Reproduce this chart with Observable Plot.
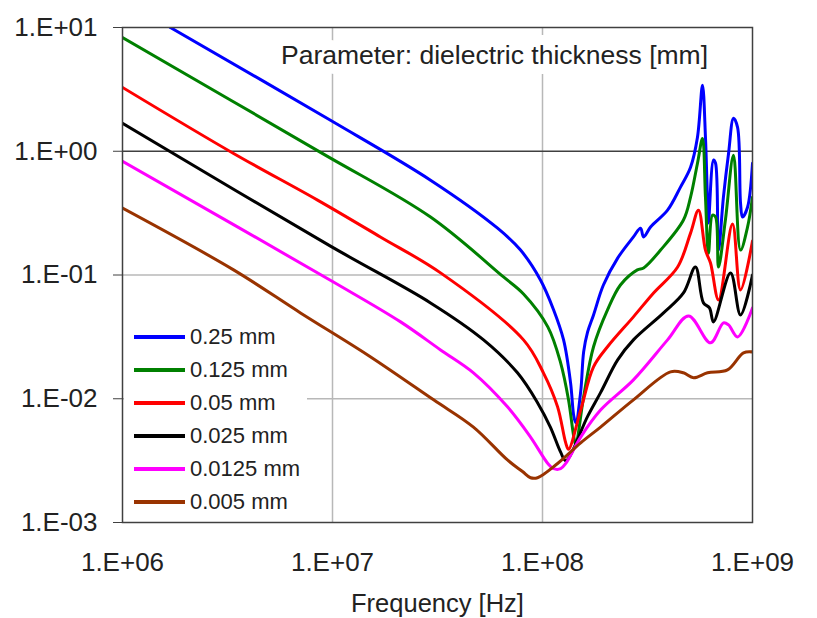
<!DOCTYPE html>
<html><head><meta charset="utf-8">
<script src="https://cdn.jsdelivr.net/npm/d3@7"></script>
<script src="https://cdn.jsdelivr.net/npm/@observablehq/plot@0.6"></script>
<style>
html,body{margin:0;padding:0;background:#fff;}
#wrap{position:relative;width:817px;height:618px;font-family:"Liberation Sans",Arial,sans-serif;}
#legend{position:absolute;left:124px;top:320px;width:183px;height:200px;background:#fff;}
.item{position:absolute;left:0;height:26px;display:flex;align-items:center;font-size:22px;color:#222;white-space:nowrap;}
.sw{width:51px;height:4px;margin-left:10px;margin-right:5px;}
</style></head><body><div id="wrap"></div>
<script>
const seriesNames = ["0.25 mm","0.125 mm","0.05 mm","0.025 mm","0.0125 mm","0.005 mm"];
const seriesColors = ["#0000ff","#008000","#ff0000","#000000","#ff00ff","#993300"];
const xTicks = [1e6,1e7,1e8,1e9];
const yTicks = [1e-3,1e-2,1e-1,1,10];
const annotation = "Parameter: dielectric thickness [mm]";
const xTitle = "Frequency [Hz]";

const freq_0250 = [1.69e6,9.78e6,2.93e7,6.11e7,7.86e7,9.78e7,1.13e8,1.26e8,1.36e8,1.41e8,1.44e8,1.52e8,1.57e8,1.64e8,1.75e8,1.95e8,2.28e8,2.71e8,2.93e8,3.03e8,3.27e8,3.94e8,4.54e8,5.07e8,5.47e8,5.78e8,5.97e8,6.11e8,6.17e8,6.52e8,6.67e8,6.89e8,7.27e8,7.69e8,8.12e8,8.49e8,8.77e8,8.96e8,9.47e8,1.0e9];
const val_0250  = [10,1.78,0.584,0.239,0.159,0.0912,0.0522,0.0299,0.0135,0.0072,0.0064,0.0114,0.0239,0.0347,0.0476,0.083,0.137,0.203,0.239,0.203,0.244,0.334,0.513,0.743,1.30,3.41,1.30,0.381,0.263,0.85,0.80,0.159,0.426,0.96,1.85,1.56,0.381,0.294,0.353,0.80];

const freq_0125 = [1.0e6,8.77e6,2.93e7,6.52e7,8.12e7,1.06e8,1.22e8,1.33e8,1.41e8,1.44e8,1.57e8,1.75e8,2.04e8,2.35e8,2.83e8,3.03e8,3.65e8,4.69e8,5.07e8,5.47e8,5.78e8,5.97e8,6.17e8,6.45e8,6.67e8,6.89e8,7.43e8,8.12e8,8.77e8,9.47e8,1.0e9];
const val_0125  = [8.30,0.98,0.294,0.0964,0.0703,0.0381,0.0195,0.0098,0.0049,0.00426,0.0104,0.0263,0.0522,0.083,0.110,0.114,0.159,0.278,0.426,0.80,1.27,0.426,0.150,0.305,0.294,0.116,0.278,0.93,0.159,0.244,0.426];

const freq_0050 = [1.0e6,3.38e6,8.49e6,1.69e7,3.27e7,8.12e7,1.01e8,1.18e8,1.29e8,1.33e8,1.52e8,1.75e8,2.04e8,2.71e8,3.38e8,4.40e8,5.07e8,5.53e8,5.97e8,6.31e8,6.89e8,8.03e8,8.77e8,1.0e9];
const val_0050  = [3.28,0.96,0.403,0.203,0.104,0.0299,0.0162,0.0086,0.0044,0.0039,0.0081,0.0181,0.0263,0.0459,0.0716,0.116,0.218,0.334,0.159,0.125,0.0629,0.258,0.0757,0.188];

const freq_0025 = [1.0e6,9.78e6,2.93e7,5.24e7,7.60e7,9.47e7,1.09e8,1.22e8,1.29e8,1.64e8,1.89e8,2.28e8,2.71e8,3.77e8,4.69e8,5.35e8,5.84e8,6.24e8,6.52e8,7.86e8,8.77e8,1.0e9];
const val_0025  = [1.68,0.171,0.0595,0.0299,0.0162,0.0093,0.0059,0.0037,0.00316,0.0072,0.0112,0.0206,0.0299,0.0494,0.0716,0.116,0.0595,0.0542,0.0418,0.104,0.0476,0.100];

const freq_00125 = [1.0e6,1.01e7,2.11e7,3.27e7,4.69e7,6.81e7,8.77e7,1.06e8,1.13e8,1.22e8,1.29e8,1.52e8,1.89e8,2.71e8,3.94e8,4.96e8,6.31e8,7.27e8,7.69e8,8.49e8,1.0e9];
const val_00125  = [0.83,0.0878,0.0418,0.0248,0.0162,0.0086,0.0049,0.0030,0.00272,0.00272,0.0030,0.0049,0.0081,0.0142,0.0299,0.0467,0.0283,0.0410,0.0395,0.0316,0.0542];

const freq_0005 = [1.0e6,3.38e6,7.04e6,1.47e7,3.03e7,4.69e7,6.81e7,8.03e7,8.77e7,9.47e7,1.18e8,1.52e8,1.89e8,2.71e8,4.07e8,4.69e8,5.24e8,6.11e8,7.60e8,9.06e8,1.0e9];
const val_0005  = [0.347,0.110,0.0494,0.0226,0.0098,0.0059,0.0032,0.00258,0.0023,0.0023,0.0030,0.0044,0.0059,0.0098,0.0165,0.0162,0.0148,0.0162,0.0171,0.0235,0.0239];

const freqs = [freq_0250,freq_0125,freq_0050,freq_0025,freq_00125,freq_0005];
const vals  = [val_0250,val_0125,val_0050,val_0025,val_00125,val_0005];
const rows = [];
seriesNames.forEach((s,i)=>freqs[i].forEach((f,j)=>rows.push({s, f, v: vals[i][j]})));

const fmt = d => { const e = Math.round(Math.log10(d)); return "1.E" + (e<0?"-":"+") + String(Math.abs(e)).padStart(2,"0"); };
const font = "Liberation Sans, Arial, sans-serif";

const chart = Plot.plot({
  width: 817, height: 618,
  marginLeft: 122, marginRight: 65, marginTop: 27, marginBottom: 96,
  x: {type: "log", domain: [1e6, 1e9]},
  y: {type: "log", domain: [1e-3, 10]},
  color: {domain: seriesNames, range: seriesColors},
  style: {fontFamily: font, background: "white", overflow: "visible"},
  marks: [
    Plot.ruleX([1e7,1e8], {stroke: "#b8b8b8", strokeWidth: 1.5}),
    Plot.ruleY([1e-2,1e-1], {stroke: "#b8b8b8", strokeWidth: 1.5}),
    Plot.ruleY([1], {stroke: "#404040", strokeWidth: 1.5}),
    Plot.text([annotation], {frameAnchor: "top", dx: 57, dy: 18, fontSize: 26.5, fill: "#222", stroke: "white", strokeWidth: 20, strokeLinejoin: "round"}),
    Plot.line(rows, {x: "f", y: "v", z: "s", stroke: "s", strokeWidth: 3, strokeLinejoin: "round", curve: "catmull-rom", clip: true}),
    Plot.frame({stroke: "#404040", strokeWidth: 1.5}),
    Plot.axisX({ticks: xTicks, tickSize: 0, tickPadding: 30, fontSize: 26, fill: "#222", tickFormat: fmt, label: null}),
    Plot.axisY({ticks: yTicks, tickSize: 9, tickPadding: 16, fontSize: 26, fill: "#222", stroke: "#404040", tickFormat: fmt, label: null}),
    Plot.text([xTitle], {frameAnchor: "bottom", dy: 89, fontSize: 25.5, fill: "#222"})
  ]
});
const wrap = document.getElementById("wrap");
wrap.appendChild(chart);
const legend = document.createElement("div");
legend.id = "legend";
seriesNames.forEach((s,i)=>{
  const it = document.createElement("div");
  it.className = "item";
  it.style.top = (17 + 33*i - 13) + "px";
  const sw = document.createElement("span");
  sw.className = "sw"; sw.style.background = seriesColors[i];
  it.appendChild(sw);
  it.appendChild(document.createTextNode(s));
  legend.appendChild(it);
});
wrap.appendChild(legend);
</script></body></html>
